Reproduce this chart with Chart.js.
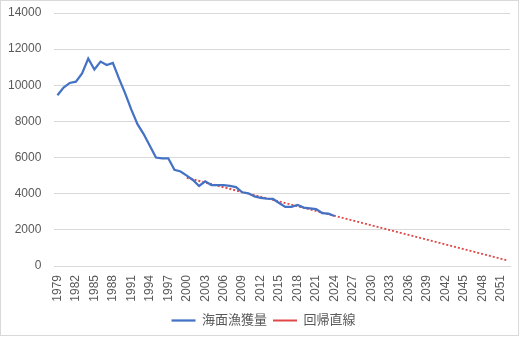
<!DOCTYPE html>
<html>
<head>
<meta charset="utf-8">
<script src="https://cdn.jsdelivr.net/npm/chart.js@4"></script>
<style>
  html, body { margin: 0; padding: 0; background: #ffffff; }
  #wrap { width: 520px; height: 337px; position: relative; }
</style>
</head>
<body>
<div id="wrap"><canvas id="c" width="520" height="337"></canvas></div>
<script>
const years = [
  '1979','1980','1981','1982','1983','1984','1985','1986','1987','1988',
  '1989','1990','1991','1992','1993','1994','1995','1996','1997','1998',
  '1999','2000','2001','2002','2003','2004','2005','2006','2007','2008',
  '2009','2010','2011','2012','2013','2014','2015','2016','2017','2018',
  '2019','2020','2021','2022','2023','2024','2025','2026','2027','2028',
  '2029','2030','2031','2032','2033','2034','2035','2036','2037','2038',
  '2039','2040','2041','2042','2043','2044','2045','2046','2047','2048',
  '2049','2050','2051','2052'
];
// 海面漁獲量 1979–2024
const catchValues = [
  9450, 9870, 10130, 10200, 10650, 11480, 10870, 11310, 11120, 11240,
  10370, 9550, 8650, 7850, 7300, 6650, 6000, 5960, 5960, 5320,
  5230, 5000, 4760, 4430, 4690, 4480, 4470, 4470, 4430, 4370,
  4080, 4020, 3850, 3770, 3730, 3710, 3490, 3270, 3270, 3380,
  3230, 3190, 3150, 2930, 2900, 2770
];
// 回帰直線 end points
const trendYears = ['2000', '2052'];
const trendValues = [4888, 316];
const yTicks = [0, 2000, 4000, 6000, 8000, 10000, 12000, 14000];
const seriesNames = ['海面漁獲量', '回帰直線'];

const FONT = "'Liberation Sans', 'Noto Sans CJK JP', sans-serif";

const borderPlugin = {
  id: 'outerBorder',
  afterDraw(chart) {
    const ctx = chart.ctx;
    ctx.save();
    ctx.strokeStyle = '#D9D9D9';
    ctx.lineWidth = 1;
    ctx.strokeRect(0.5, 0.5, 518, 335);
    ctx.restore();
  }
};

new Chart(document.getElementById('c'), {
  type: 'line',
  data: {
    labels: years,
    datasets: [
      {
        label: seriesNames[0],
        data: catchValues,
        borderColor: '#4472C4',
        backgroundColor: '#4472C4',
        borderWidth: 2.25,
        pointRadius: 0,
        tension: 0
      },
      {
        label: seriesNames[1],
        data: trendYears.map((y, i) => ({ x: y, y: trendValues[i] })),
        borderColor: '#E04848',
        backgroundColor: '#E04848',
        borderWidth: 2,
        borderDash: [2, 2],
        pointRadius: 0,
        spanGaps: true
      }
    ]
  },
  options: {
    responsive: false,
    animation: false,
    devicePixelRatio: 1,
    layout: { padding: { left: 7, right: 0, top: 0, bottom: 0 } },
    plugins: {
      legend: {
        position: 'bottom',
        labels: {
          usePointStyle: true,
          pointStyle: 'line',
          pointStyleWidth: 24,
          boxHeight: 12,
          padding: 6,
          color: '#595959',
          font: { family: FONT, size: 13 }
        }
      },
      tooltip: { enabled: false }
    },
    scales: {
      x: {
        type: 'category',
        offset: true,
        grid: { display: false, drawTicks: false },
        border: { display: true, color: '#D9D9D9', width: 1 },
        afterFit: (s) => { s.paddingLeft = 0; s.paddingRight = 10; s.height = 42; },
        ticks: {
          autoSkip: false,
          minRotation: 90,
          maxRotation: 90,
          padding: 9,
          color: '#595959',
          font: { family: FONT, size: 12 },
          callback: function(val, idx) { return idx % 3 === 0 ? years[idx] : ''; }
        }
      },
      y: {
        min: 0,
        max: 14000,
        afterBuildTicks: (axis) => { axis.ticks = yTicks.map(v => ({ value: v })); },
        afterFit: (s) => { s.paddingTop = 13; s.width -= 12; },
        grid: { color: '#D9D9D9', drawTicks: false, lineWidth: 1 },
        border: { display: false },
        ticks: {
          padding: 13,
          color: '#595959',
          font: { family: FONT, size: 12 },
          callback: (v) => String(v)
        }
      }
    }
  },
  plugins: [borderPlugin]
});
</script>
</body>
</html>
